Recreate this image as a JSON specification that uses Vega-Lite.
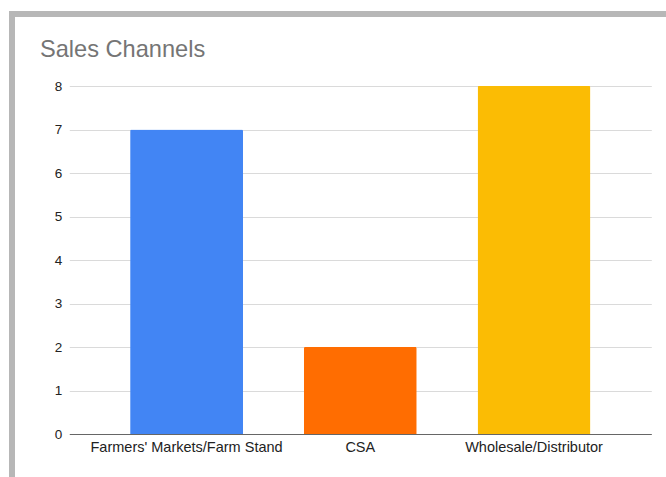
{
  "$schema": "https://vega.github.io/schema/vega-lite/v6.json",
  "autosize": {"type": "none"},
  "padding": {"left": 12, "top": 14, "right": -6, "bottom": -7},
  "width": 660,
  "height": 470,
  "background": "white",
  "title": {
    "text": "Sales Channels",
    "anchor": "start",
    "frame": "group",
    "orient": "top",
    "baseline": "alphabetic",
    "offset": -67,
    "dx": 28,
    "font": "Liberation Sans",
    "fontSize": 23.6,
    "fontWeight": "normal",
    "color": "#757575"
  },
  "data": {
    "values": [
      {"channel": "Farmers' Markets/Farm Stand", "count": 7},
      {"channel": "CSA", "count": 2},
      {"channel": "Wholesale/Distributor", "count": 8}
    ]
  },
  "mark": {"type": "bar", "cornerRadiusTopLeft": 1.5, "cornerRadiusTopRight": 1.5},
  "encoding": {
    "x": {
      "field": "channel",
      "type": "nominal",
      "sort": null,
      "scale": {"range": [57.3, 639.3], "paddingInner": 0.35, "paddingOuter": 0.35},
      "axis": {
        "title": null,
        "labelAngle": 0,
        "offset": -50,
        "ticks": false,
        "tickSize": 0,
        "labelPadding": 6,
        "labelLimit": 0,
        "domainColor": "#666666",
        "domainWidth": 1,
        "labelFont": "Liberation Sans",
        "labelFontSize": 14.5,
        "labelColor": "#222222",
        "grid": false
      }
    },
    "y": {
      "field": "count",
      "type": "quantitative",
      "scale": {"domain": [0, 8], "range": [420, 72]},
      "axis": {
        "title": null,
        "values": [0, 1, 2, 3, 4, 5, 6, 7, 8],
        "offset": -57.3,
        "domain": false,
        "ticks": false,
        "tickSize": 0,
        "labelPadding": 7.5,
        "labelFont": "Liberation Sans",
        "labelFontSize": 13.5,
        "labelColor": "#222222",
        "grid": true,
        "gridColor": "#dadada",
        "gridWidth": 1
      }
    },
    "color": {
      "field": "channel",
      "type": "nominal",
      "scale": {
        "domain": ["Farmers' Markets/Farm Stand", "CSA", "Wholesale/Distributor"],
        "range": ["#4285f4", "#ff6d01", "#fbbc04"]
      },
      "legend": null
    }
  },
  "config": {"view": {"stroke": "#b7b7b7", "strokeWidth": 6, "fill": "white"}}
}
